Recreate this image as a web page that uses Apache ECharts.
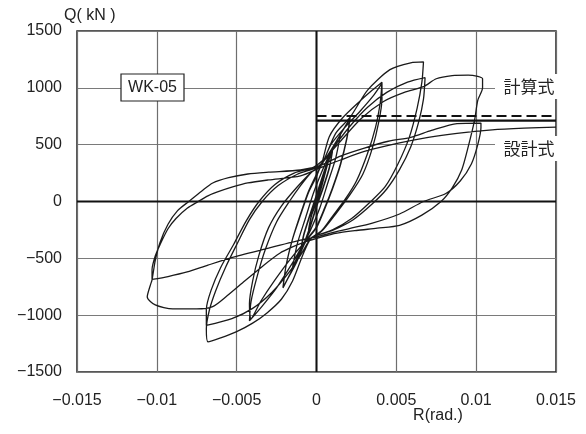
<!DOCTYPE html>
<html><head><meta charset="utf-8">
<script src="https://cdn.jsdelivr.net/npm/echarts@6/dist/echarts.min.js"></script>
<style>html,body{margin:0;padding:0;background:#fff}#c{width:586px;height:434px}</style>
</head><body><div id="c"></div>
<script>
// Axis ticks
const xTicks = [-0.015, -0.01, -0.005, 0, 0.005, 0.01, 0.015];
const yTicks = [-1500, -1000, -500, 0, 500, 1000, 1500];

// Reference lines (R, Q)
const calcLine = [[0, 752], [0.015, 752]];      // 計算式
const designLine = [[0, 711], [0.015, 711]];    // 設計式

// Hysteresis path, stage by stage (R rad., Q kN)
const stageSmall = [[0,0],[0.0002,110],[0.0005,250],[0.0003,120],[0,20],[-0.0003,-110],[-0.0005,-250],[-0.0003,-120],[0,-10],[0.0003,120],
  [0.0007,330],[0.001,450],[0.0008,300],[0.0004,120],[0,-40],[-0.0005,-260],[-0.001,-450],[-0.0008,-300],[-0.0004,-120],[0,50],[0.0003,180],
  [0.0007,340],[0.001,440],[0.0008,290],[0.0004,110],[0,-50],[-0.0005,-270],[-0.001,-440],[-0.0008,-290],[-0.0004,-110],[0,60],[0.0003,190],
  [0.0009,430],[0.0015,590],[0.0012,380],[0.0007,160],[0.0002,-60],[-0.0004,-260],[-0.001,-430],[-0.0015,-580],[-0.0012,-370],[-0.0007,-150],[-0.0002,70],[0.0003,250]];
const stage2 = [[0.0008,410],[0.0015,590],[0.0021,735],[0.0019,560],[0.0015,330],[0.001,120],[0.0005,-60],[0,-220],[-0.0007,-356],[-0.0013,-540],[-0.0021,-760],
  [-0.0019,-560],[-0.0015,-330],[-0.001,-120],[-0.0005,80],[0,220],[0.0003,320],[0.0009,450],[0.0015,590],[0.0021,730],
  [0.0019,550],[0.0015,320],[0.001,110],[0.0005,-70],[0,-230],[-0.0007,-360],[-0.0013,-550],[-0.0021,-755],
  [-0.0019,-560],[-0.0015,-330],[-0.001,-110],[-0.0005,90],[0,240],[0.0003,320]];
const stage4a = [[0.0008,570],[0.0016,730],[0.0027,880],[0.0035,980],[0.0041,1050],
  [0.004,880],[0.0037,655],[0.0032,425],[0.0025,180],[0.0018,20],[0.001,-130],[0.0003,-260],[-0.0007,-356],[-0.0015,-540],[-0.0025,-760],[-0.0034,-920],[-0.0042,-1050],
  [-0.0041,-880],[-0.0037,-650],[-0.0032,-420],[-0.0025,-180],[-0.0017,0],[-0.001,140],[-0.0003,260],[0.0003,320]];
const stage4b = [[0.0009,500],[0.0017,640],[0.0027,790],[0.0035,920],[0.0041,1040],
  [0.0041,900],[0.0039,700],[0.0035,470],[0.0029,240],[0.0021,60],[0.0012,-110],[0.0003,-265],[-0.0007,-356],[-0.0016,-500],[-0.0026,-690],[-0.0035,-880],[-0.0041,-1030],
  [-0.0042,-900],[-0.004,-700],[-0.0036,-470],[-0.003,-230],[-0.0022,-40],[-0.0012,130],[-0.0003,260],[0.0003,320]];
const stage7a = [[0.0012,600],[0.0021,740],[0.0032,980],[0.0046,1160],[0.0059,1220],[0.0067,1228],
  [0.0066,1050],[0.0063,820],[0.0058,560],[0.0051,330],[0.0043,130],[0.0034,0],[0.0022,-150],[0.001,-250],[-0.0003,-320],[-0.0008,-450],[-0.0015,-700],[-0.0022,-860],[-0.0031,-980],[-0.004,-1070],[-0.005,-1145],[-0.006,-1200],[-0.0068,-1235],
  [-0.0069,-1120],[-0.0067,-950],[-0.0063,-780],[-0.0057,-580],[-0.005,-380],[-0.0042,-160],[-0.0034,0],[-0.0024,140],[-0.0012,240],[0,300],[0.0006,380],[0.0013,520],[0.0022,680],[0.0032,830],[0.0044,960],[0.0057,1050],[0.0068,1090]];
const stage7b = [[0.0067,900],[0.0064,700],[0.0059,480],[0.0052,280],[0.0044,110],[0.0035,-20],[0.0023,-160],[0.001,-255],[-0.0003,-320],[-0.0009,-450],[-0.0017,-620],[-0.0028,-800],[-0.004,-940],[-0.0053,-1030],[-0.0069,-1090],
  [-0.0069,-950],[-0.0066,-780],[-0.006,-580],[-0.0052,-380],[-0.0044,-170],[-0.0036,0],[-0.0026,150],[-0.0014,250],[-0.0002,300],[0.0006,390],[0.0015,530],[0.0028,730],[0.0042,880],[0.0055,960],[0.0067,1010],[0.0075,1080],[0.0085,1108],[0.0095,1112],[0.0101,1100],[0.0104,1080]];
const stage10a = [[0.0104,1000],[0.0101,890],[0.0099,715],[0.0095,480],[0.0091,280],[0.0085,120],[0.0078,0],[0.0066,-120],[0.0052,-210],[0.0038,-235],[0.0025,-255],[0.0012,-280],[0.0004,-310],[-0.0007,-356],[-0.0015,-400],[-0.0023,-455],[-0.0033,-560],[-0.0045,-700],[-0.0056,-830],[-0.0065,-925],[-0.0075,-945],[-0.009,-945],[-0.0101,-910],[-0.0106,-840],
  [-0.0104,-733],[-0.0103,-690],[-0.0101,-520],[-0.0098,-360],[-0.0093,-200],[-0.0087,-80],[-0.008,0],[-0.0072,90],[-0.0065,163],[-0.0055,210],[-0.0043,242],[-0.003,258],[-0.001,277],[0.0003,320],[0.0015,400],[0.003,470],[0.0045,530],[0.0059,565],[0.0072,625],[0.0088,685],[0.0103,690]];
const stage10b = [[0.0103,650],[0.0101,500],[0.0097,330],[0.009,180],[0.0081,70],[0.0067,0],[0.0052,-110],[0.0035,-190],[0.002,-240],[0.0008,-280],[-0.0001,-315],[-0.001,-340],[-0.003,-410],[-0.0052,-490],[-0.0068,-560],[-0.0081,-620],[-0.0093,-660],[-0.0103,-685],
  [-0.0103,-600],[-0.0101,-480],[-0.0098,-380],[-0.0093,-240],[-0.0088,-150],[-0.0081,-60],[-0.0074,0],[-0.0068,50],[-0.0062,84],[-0.0052,130],[-0.0043,163],[-0.003,190],[-0.001,225],[0.0003,300]];
const stagePush = [[0.0015,365],[0.003,440],[0.0052,515],[0.007,565],[0.0088,600],[0.011,630],[0.013,645],[0.015,655]];

const loopData = [].concat(stageSmall, stage2, stage4a, stage4b, stage7a, stage7b, stage10a, stage10b, stagePush);

const FONT = '"Liberation Sans", Arial, sans-serif';
const fmt = v => {
  const n = Number(v.toFixed(4));
  if (n === 0) return '0';
  return (n < 0 ? '\u2212' : '') + String(Math.abs(n));
};

const chart = echarts.init(document.getElementById('c'), null, {renderer: 'canvas'});
chart.setOption({
  animation: false,
  backgroundColor: '#fff',
  grid: {left: 77, right: 30, top: 31, bottom: 62, show: true, borderColor: '#222', borderWidth: 1.5, backgroundColor: 'transparent'},
  xAxis: {
    type: 'value', min: xTicks[0], max: xTicks[xTicks.length - 1], interval: 0.005,
    axisLine: {show: false}, axisTick: {show: false},
    splitLine: {show: true, lineStyle: {color: '#6e6e6e', width: 1.2}},
    axisLabel: {formatter: fmt, fontSize: 16, color: '#222', fontFamily: FONT, margin: 21, showMinLabel: true, showMaxLabel: true, hideOverlap: false}
  },
  yAxis: {
    type: 'value', min: yTicks[0], max: yTicks[yTicks.length - 1], interval: 500,
    axisLine: {show: false}, axisTick: {show: false},
    splitLine: {show: true, lineStyle: {color: '#7a7a7a', width: 1.2}},
    axisLabel: {formatter: fmt, fontSize: 16, color: '#222', fontFamily: FONT, margin: 15, showMinLabel: true, showMaxLabel: true}
  },
  series: [
    {type: 'line', data: [[xTicks[0], 0], [xTicks[6], 0]], showSymbol: false, silent: true, lineStyle: {color: '#111', width: 2}, z: 1},
    {type: 'line', data: [[0, yTicks[0]], [0, yTicks[6]]], showSymbol: false, silent: true, lineStyle: {color: '#111', width: 2}, z: 1},
    {type: 'line', data: loopData, showSymbol: false, smooth: 0.25, smoothMonotone: 'none', lineStyle: {color: '#1a1a1a', width: 1.3}, z: 3},
    {type: 'line', data: calcLine, showSymbol: false, lineStyle: {color: '#111', width: 2, type: [10, 5]}, z: 4},
    {type: 'line', data: designLine, showSymbol: false, lineStyle: {color: '#111', width: 2.2}, z: 4}
  ],
  graphic: [
    {type: 'text', z: 100, left: 64, top: 8, style: {text: 'Q( kN )', font: '16px ' + FONT, fill: '#222'}},
    {type: 'text', z: 100, x: 438, y: 416, style: {text: 'R(rad.)', font: '16px ' + FONT, fill: '#222', textAlign: 'center', textVerticalAlign: 'middle'}},
    {type: 'rect', z: 100, shape: {x: 121, y: 74, width: 63, height: 27}, style: {fill: '#fff', stroke: '#222', lineWidth: 1.2}},
    {type: 'text', z: 101, x: 152.5, y: 88, style: {text: 'WK-05', font: '16px ' + FONT, fill: '#222', textAlign: 'center', textVerticalAlign: 'middle'}},
    {type: 'rect', z: 100, shape: {x: 495, y: 74, width: 70, height: 25}, style: {fill: '#fff'}},
    {type: 'text', z: 101, x: 529, y: 87, style: {text: '計算式', font: '17px "Noto Sans CJK JP", sans-serif', fill: '#222', textAlign: 'center', textVerticalAlign: 'middle'}},
    {type: 'rect', z: 100, shape: {x: 495, y: 136, width: 70, height: 25}, style: {fill: '#fff'}},
    {type: 'text', z: 101, x: 529, y: 149, style: {text: '設計式', font: '17px "Noto Sans CJK JP", sans-serif', fill: '#222', textAlign: 'center', textVerticalAlign: 'middle'}}
  ]
});
</script></body></html>
